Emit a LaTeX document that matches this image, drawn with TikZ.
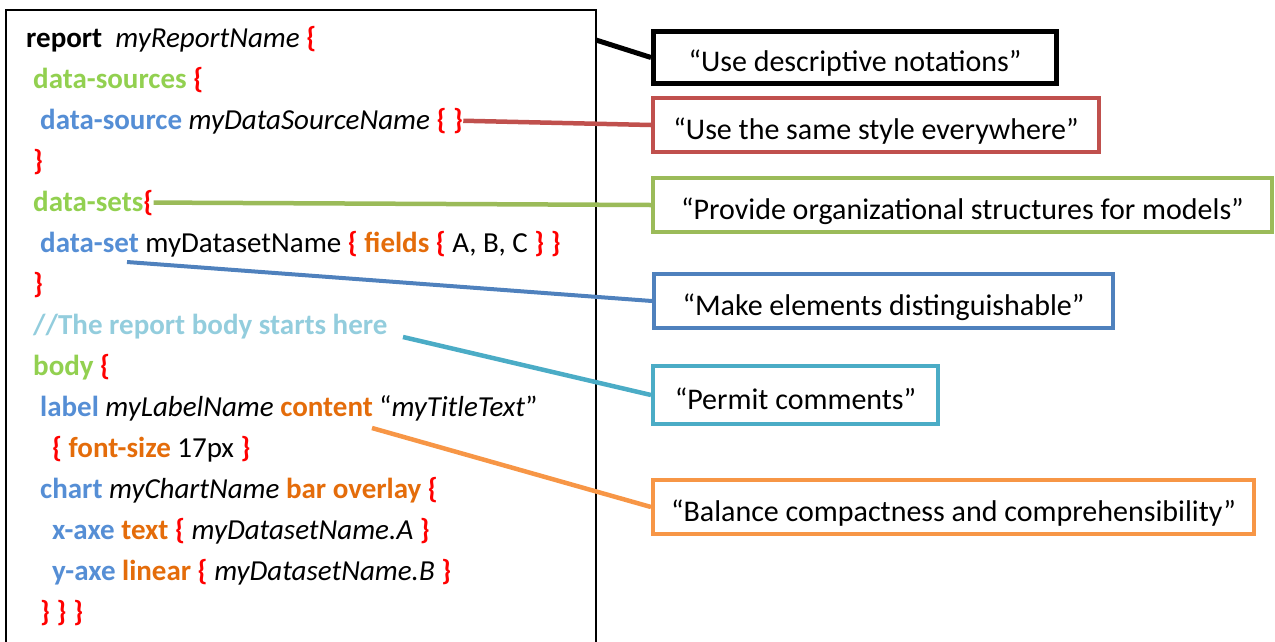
\documentclass[tikz,border=0pt]{standalone}
\usepackage{fontspec}
\setmainfont{Carlito}
\definecolor{secgreen}{RGB}{146,208,80}
\definecolor{elemblue}{RGB}{85,142,213}
\definecolor{proporange}{RGB}{228,108,10}
\definecolor{cmtcyan}{RGB}{147,205,221}
\definecolor{hintred}{RGB}{192,80,77}
\definecolor{hintgreen}{RGB}{155,187,89}
\definecolor{hintblue}{RGB}{79,129,189}
\definecolor{hintcyan}{RGB}{75,172,198}
\definecolor{hintorange}{RGB}{247,150,70}
\newcommand{\secword}[1]{\textcolor{secgreen}{\textbf{#1}}}
\newcommand{\elemword}[1]{\textcolor{elemblue}{\textbf{#1}}}
\newcommand{\propword}[1]{\textcolor{proporange}{\textbf{#1}}}
\newcommand{\cbr}[1]{\textcolor{red}{\textbf{#1}}}
\begin{document}
\begin{tikzpicture}[x=1pt,y=-1pt,
  codeline/.style={anchor=base west,inner sep=0pt,font=\fontsize{29}{34}\selectfont},
  hint/.style={draw,line width=4pt,anchor=north west,minimum height=54pt,
    text height=28pt,text depth=0pt,inner sep=0pt,font=\fontsize{30}{36}\selectfont},
  link/.style={line width=4.5pt}]
\useasboundingbox (0,0) rectangle (1275,641);
% code frame, open at the bottom
\draw[line width=1.2pt] (6,650) -- (6,10) -- (596,10) -- (596,650);
% code lines
\node[codeline] (l1) at (26,47) {\textbf{report}\ \ \textit{myReportName} \cbr{\{}};
\node[codeline] (l2) at (33,88) {\secword{data-sources} \cbr{\{}};
\node[codeline] (l3) at (40,129) {\elemword{data-source} \textit{myDataSourceName} \cbr{\{ \}}};
\node[codeline] (l4) at (33,170) {\cbr{\}}};
\node[codeline] (l5) at (33,211) {\secword{data-sets}\cbr{\{}};
\node[codeline] (l6) at (40,252) {\elemword{data-set} myDatasetName \cbr{\{} \propword{fields} \cbr{\{} A, B, C \cbr{\} \}}};
\node[codeline] (l7) at (33,293) {\cbr{\}}};
\node[codeline] (l8) at (33,334) {\textcolor{cmtcyan}{\textbf{//The report body starts here}}};
\node[codeline] (l9) at (33,375) {\secword{body} \cbr{\{}};
\node[codeline] (l10) at (40,416) {\elemword{label} \textit{myLabelName} \propword{content} “\textit{myTitleText}”};
\node[codeline] (l11) at (52,457) {\cbr{\{} \propword{font-size} 17px \cbr{\}}};
\node[codeline] (l12) at (40,498) {\elemword{chart} \textit{myChartName} \propword{bar overlay} \cbr{\{}};
\node[codeline] (l13) at (52,539) {\elemword{x-axe} \propword{text} \cbr{\{} \textit{myDatasetName.A} \cbr{\}}};
\node[codeline] (l14) at (52,580) {\elemword{y-axe} \propword{linear} \cbr{\{} \textit{myDatasetName.B} \cbr{\}}};
\node[codeline] (l15) at (40,621) {\cbr{\} \} \}}};
% hint boxes
\node[hint,draw=black,line width=5pt,minimum width=403pt,minimum height=52pt] (descr) at (651,29) {“Use descriptive notations”};
\node[hint,draw=hintred,minimum width=446pt] (style) at (651,96) {“Use the same style everywhere”};
\node[hint,draw=hintgreen,minimum width=619pt] (struct) at (651,176) {“Provide organizational structures for models”};
\node[hint,draw=hintblue,minimum width=459pt] (disting) at (652,272) {“Make elements distinguishable”};
\node[hint,draw=hintcyan,minimum width=285pt,minimum height=58pt] (cmts) at (651,364) {“Permit comments”};
\node[hint,draw=hintorange,minimum width=601pt] (balance) at (651,478) {“Balance compactness and comprehensibility”};
% connector starts
\coordinate (frameR) at (596,40);
\coordinate (dsetend) at (127,262);
\coordinate (cmtend) at (403,337);
\coordinate (contentend) at (372,428);
% connectors
\draw[link,line width=5pt] (frameR) -- (descr.west);
\draw[link,hintred] (l3.east) -- (style.west);
\draw[link,hintgreen] (l5.east) -- (struct.west);
\draw[link,hintblue,line width=4pt] (dsetend) -- (disting.west);
\draw[link,hintcyan] (cmtend) -- (cmts.west);
\draw[link,hintorange] (contentend) -- (balance.west);
\end{tikzpicture}
\end{document}
